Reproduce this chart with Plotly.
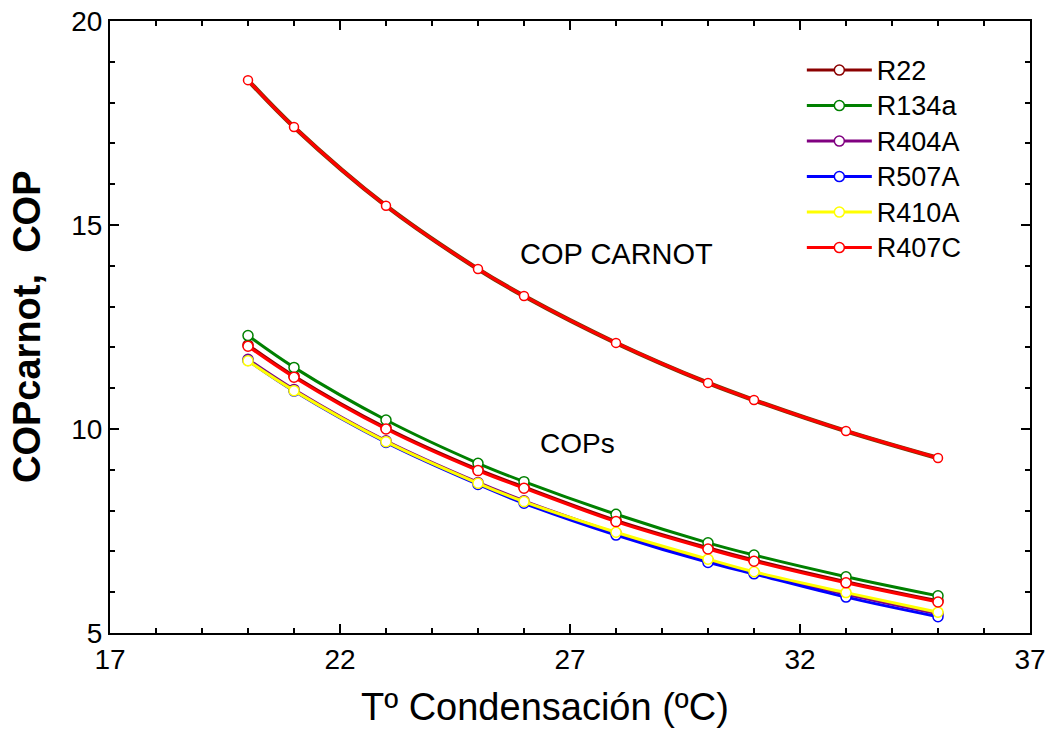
import plotly.graph_objects as go

t_cond = [20, 21, 23, 25, 26, 28, 30, 31, 33, 35]

cop_carnot = [18.55, 17.40, 15.47, 13.92, 13.26, 12.11, 11.13, 10.71, 9.95, 9.29]

cop_r22   = [12.06, 11.30, 10.03, 9.01, 8.58, 7.76, 7.09, 6.79, 6.26, 5.79]
cop_r134a = [12.29, 11.51, 10.22, 9.16, 8.71, 7.91, 7.21, 6.91, 6.38, 5.91]
cop_r404a = [11.71, 10.97, 9.71, 8.69, 8.24, 7.45, 6.78, 6.48, 5.95, 5.47]
cop_r507a = [11.68, 10.93, 9.67, 8.64, 8.18, 7.40, 6.73, 6.45, 5.88, 5.40]
cop_r410a = [11.67, 10.94, 9.69, 8.67, 8.22, 7.47, 6.81, 6.50, 5.99, 5.51]
cop_r407c = [12.03, 11.27, 10.00, 8.98, 8.55, 7.73, 7.06, 6.76, 6.23, 5.76]

series_names = ["R22", "R134a", "R404A", "R507A", "R410A", "R407C"]
series_values = [cop_r22, cop_r134a, cop_r404a, cop_r507a, cop_r410a, cop_r407c]
series_colors = ["#8b0000", "#008000", "#800080", "#0000ff", "#ffff00", "#ff0000"]

x_ticks = [17, 22, 27, 32, 37]
y_ticks = [5, 10, 15, 20]

x_title = "Tº Condensación (ºC)"
y_title = "COPcarnot,  COP"

FONT = "Arial, Liberation Sans, sans-serif"

fig = go.Figure()

# Carnot curve (same for all refrigerants, drawn overlaid)
fig.add_trace(go.Scatter(
    x=t_cond, y=cop_carnot, mode="lines", line=dict(color="#7a3a00", width=4.5, shape="spline"),
    showlegend=False, hoverinfo="skip"))
fig.add_trace(go.Scatter(
    x=t_cond, y=cop_carnot, mode="lines+markers",
    line=dict(color="#ff0000", width=3, shape="spline"),
    marker=dict(symbol="circle", size=9, color="white", line=dict(color="#ff0000", width=1.5)),
    showlegend=False))

order = [0, 2, 3, 4, 1, 5]  # drawing order
for i in order:
    fig.add_trace(go.Scatter(
        x=t_cond, y=series_values[i], mode="lines+markers",
        name="<span style='font-size:27px'>" + series_names[i] + "</span>",
        legendgroup=series_names[i], legendrank=i + 1,
        line=dict(color=series_colors[i], width=3, shape="spline"),
        marker=dict(symbol="circle", size=10, color="white",
                    line=dict(color=series_colors[i], width=1.5)),
    ))

fig.add_annotation(x=28.0, y=14.3, text="COP CARNOT", showarrow=False,
                   font=dict(family=FONT, size=29, color="black"))
fig.add_annotation(x=27.16, y=9.65, text="COPs", showarrow=False,
                   font=dict(family=FONT, size=28, color="black"))

# axis titles
fig.add_annotation(xref="paper", yref="paper", x=0.4728, y=-0.121, text=x_title,
                   showarrow=False, xanchor="center", yanchor="middle",
                   font=dict(family=FONT, size=38, color="black"))
fig.add_annotation(xref="paper", yref="paper", x=-0.0902, y=0.5, text="<b>" + y_title + "</b>",
                   showarrow=False, xanchor="center", yanchor="middle", textangle=-90,
                   font=dict(family=FONT, size=38, color="black"))

axis_common = dict(
    showline=True, linecolor="black", linewidth=2, mirror="ticks",
    ticks="inside", tickcolor="black", tickwidth=1.5, ticklen=9,
    showgrid=False, zeroline=False, automargin=False,
    tickfont=dict(family=FONT, size=28, color="black"),
)

fig.update_xaxes(
    range=[17, 37], tickmode="array", tickvals=x_ticks, ticktext=[str(v) for v in x_ticks],
    minor=dict(ticks="inside", dtick=1, tick0=17, ticklen=5, tickcolor="black", tickwidth=1.5),
    **axis_common)
fig.update_yaxes(
    range=[5, 20], tickmode="array", tickvals=y_ticks, ticktext=[str(v) for v in y_ticks],
    minor=dict(ticks="inside", dtick=1, tick0=5, ticklen=5, tickcolor="black", tickwidth=1.5),
    **axis_common)

fig.update_layout(
    width=1048, height=731,
    margin=dict(l=110, r=18, t=21, b=98),
    plot_bgcolor="white", paper_bgcolor="white",
    legend=dict(x=0.752, y=0.957, xanchor="left", yanchor="top",
                font=dict(family=FONT, size=25, color="black"),
                itemwidth=65, tracegroupgap=0, bgcolor="rgba(0,0,0,0)"),
)

fig.write_html("out.html")
